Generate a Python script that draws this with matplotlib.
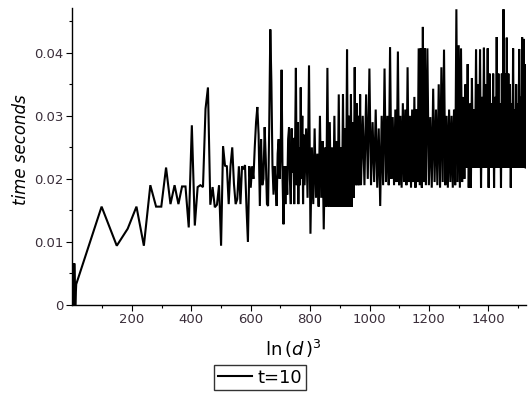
import numpy as np
import matplotlib
matplotlib.use("Agg")
import matplotlib.pyplot as plt
from matplotlib.ticker import FixedLocator, FuncFormatter

# ---- data: timing (seconds) against ln(d)^3 ----
d_early = [1, 2, 3, 4, 5, 6, 8, 10]
t_early = [0.0, 0.0033, 0.0, 0.0066, 0.0, 0.0066, 0.0, 0.0033]

# d = 100 .. 6300 (step 100)
d_a_start, d_a_step = 100, 100
t_a = [0.0156, 0.0094, 0.0121, 0.0156, 0.0094, 0.0190, 0.0156, 0.0156, 0.0218, 0.0160,
       0.0190, 0.0160, 0.0188, 0.0188, 0.0123, 0.0285, 0.0126, 0.0187, 0.0190, 0.0187,
       0.0311, 0.0345, 0.0159, 0.0187, 0.0155, 0.0159, 0.0190, 0.0094, 0.0252, 0.0221,
       0.0220, 0.0160, 0.0220, 0.0250, 0.0192, 0.0160, 0.0168, 0.0220, 0.0160, 0.0220,
       0.0215, 0.0222, 0.0155, 0.0100, 0.0220, 0.0186, 0.0220, 0.0200, 0.0250, 0.0290,
       0.0314, 0.0270, 0.0157, 0.0263, 0.0190, 0.0200, 0.0282, 0.0230, 0.0160, 0.0157,
       0.0282, 0.0437, 0.0353]

# d = 6400 .. 10000 (step 100)
d_b_start, d_b_step = 6400, 100
t_b = [0.0220, 0.0175, 0.0220, 0.0190, 0.0157, 0.0240, 0.0263, 0.0200, 0.0240, 0.0373,
       0.0200, 0.0128, 0.0220, 0.0160, 0.0220, 0.0175, 0.0263, 0.0282, 0.0200, 0.0160,
       0.0280, 0.0210, 0.0265, 0.0160, 0.0250, 0.0376, 0.0190, 0.0290, 0.0160, 0.0250,
       0.0190, 0.0345, 0.0200, 0.0300, 0.0160, 0.0270, 0.0190]

# d = 10200 .. 20000 (step 200)
d_c_start, d_c_step = 10200, 200
t_c = [0.0280, 0.0170, 0.0380, 0.0113, 0.0250, 0.0160, 0.0280, 0.0170, 0.0240, 0.0156,
       0.0300, 0.0170, 0.0260, 0.0120, 0.0250, 0.0156, 0.0376, 0.0156, 0.0290, 0.0156,
       0.0250, 0.0156, 0.0300, 0.0156, 0.0260, 0.0156, 0.0334, 0.0156, 0.0250, 0.0156,
       0.0334, 0.0156, 0.0280, 0.0156, 0.0405, 0.0156, 0.0300, 0.0156, 0.0334, 0.0156,
       0.0290, 0.0170, 0.0377, 0.0190, 0.0320, 0.0190, 0.0300, 0.0190, 0.0334, 0.0190]

# d = 20400 .. 40000 (step 400)
d_d_start, d_d_step = 20400, 400
t_d = [0.0300, 0.0190, 0.0334, 0.0200, 0.0375, 0.0190, 0.0290, 0.0195, 0.0310, 0.0186,
       0.0280, 0.0157, 0.0300, 0.0190, 0.0375, 0.0195, 0.0300, 0.0190, 0.0409, 0.0200,
       0.0298, 0.0190, 0.0310, 0.0195, 0.0402, 0.0190, 0.0300, 0.0186, 0.0320, 0.0195,
       0.0310, 0.0190, 0.0377, 0.0195, 0.0300, 0.0186, 0.0310, 0.0195, 0.0330, 0.0186,
       0.0310, 0.0195, 0.0407, 0.0190, 0.0407, 0.0186, 0.0441, 0.0195, 0.0407, 0.0190]

# d = 40600 .. 100000 (step 600)
d_e_start, d_e_step = 40600, 600
t_e = [0.0407, 0.0190, 0.0298, 0.0186, 0.0343, 0.0195, 0.0310, 0.0190, 0.0350, 0.0186,
       0.0377, 0.0195, 0.0405, 0.0190, 0.0300, 0.0186, 0.0310, 0.0195, 0.0300, 0.0186,
       0.0310, 0.0190, 0.0469, 0.0195, 0.0412, 0.0186, 0.0407, 0.0195, 0.0330, 0.0200,
       0.0350, 0.0218, 0.0382, 0.0186, 0.0320, 0.0186, 0.0360, 0.0218, 0.0310, 0.0218,
       0.0405, 0.0218, 0.0350, 0.0218, 0.0405, 0.0186, 0.0330, 0.0218, 0.0408, 0.0218,
       0.0350, 0.0218, 0.0407, 0.0186, 0.0367, 0.0218, 0.0320, 0.0218, 0.0367, 0.0186,
       0.0330, 0.0218, 0.0425, 0.0218, 0.0367, 0.0218, 0.0320, 0.0186, 0.0367, 0.0218,
       0.0469, 0.0218, 0.0367, 0.0218, 0.0424, 0.0218, 0.0367, 0.0218, 0.0350, 0.0186,
       0.0320, 0.0218, 0.0407, 0.0218, 0.0310, 0.0218, 0.0350, 0.0218, 0.0320, 0.0218,
       0.0406, 0.0218, 0.0330, 0.0218, 0.0425, 0.0218, 0.0422, 0.0218, 0.0382, 0.0218]

x_major = [200, 400, 600, 800, 1000, 1200, 1400]
x_minor = [100, 300, 500, 700, 900, 1100, 1300, 1500]
y_major = [0.0, 0.01, 0.02, 0.03, 0.04]
y_minor = [0.005, 0.015, 0.025, 0.035, 0.045]
legend_label = "t=10"

# ---- assemble series ----
def grid(start, step, vals):
    return start + step * np.arange(len(vals))

d_all = np.concatenate([
    np.array(d_early, dtype=float),
    grid(d_a_start, d_a_step, t_a),
    grid(d_b_start, d_b_step, t_b),
    grid(d_c_start, d_c_step, t_c),
    grid(d_d_start, d_d_step, t_d),
    grid(d_e_start, d_e_step, t_e),
]).astype(float)
t_all = np.concatenate([t_early, t_a, t_b, t_c, t_d, t_e])
x_all = np.log(d_all) ** 3

# ---- figure ----
fig = plt.figure(figsize=(5.32, 4.0), dpi=100)
ax = fig.add_axes([0.1348, 0.2375, 0.9887 - 0.1348, 0.98 - 0.2375])

line, = ax.plot(x_all, t_all, color="black", lw=1.5, solid_joinstyle="miter")

ax.set_xlim(-3, 1527)
ax.set_ylim(0, 0.0471)

for s in ["top", "right"]:
    ax.spines[s].set_visible(False)
for s in ["left", "bottom"]:
    ax.spines[s].set_linewidth(1.0)
    ax.spines[s].set_color("black")

tick_color = "#3a2e3a"
ax.xaxis.set_major_locator(FixedLocator(x_major))
ax.xaxis.set_minor_locator(FixedLocator(x_minor))
ax.yaxis.set_major_locator(FixedLocator(y_major))
ax.yaxis.set_minor_locator(FixedLocator(y_minor))
ax.yaxis.set_major_formatter(FuncFormatter(lambda v, p: "0" if abs(v) < 1e-12 else f"{v:.2f}"))
ax.xaxis.set_major_formatter(FuncFormatter(lambda v, p: f"{int(round(v))}"))
ax.tick_params(which="major", direction="out", length=4, width=0.8,
               labelsize=9.5, labelcolor=tick_color, color="black", pad=2)
ax.tick_params(which="minor", direction="out", length=2.5, width=0.8, color="black")

plt.rcParams["mathtext.fontset"] = "dejavusans"
fig.text(0.039, 0.625, "time seconds", rotation=90, ha="center", va="center",
         fontsize=12, style="italic", color="black")
fig.text(0.551, 0.128, r"$\mathregular{ln}\,(d\,)^{3}$", ha="center", va="center",
         fontsize=13, color="black")

leg = fig.legend([line], [legend_label], loc="center", bbox_to_anchor=(0.489, 0.056),
                 frameon=True, fancybox=False, fontsize=13, handlelength=1.9,
                 handletextpad=0.3, borderpad=0.2, borderaxespad=0)
leg.get_frame().set_edgecolor("black")
leg.get_frame().set_linewidth(1.0)

fig.savefig("out.png", dpi=100)
